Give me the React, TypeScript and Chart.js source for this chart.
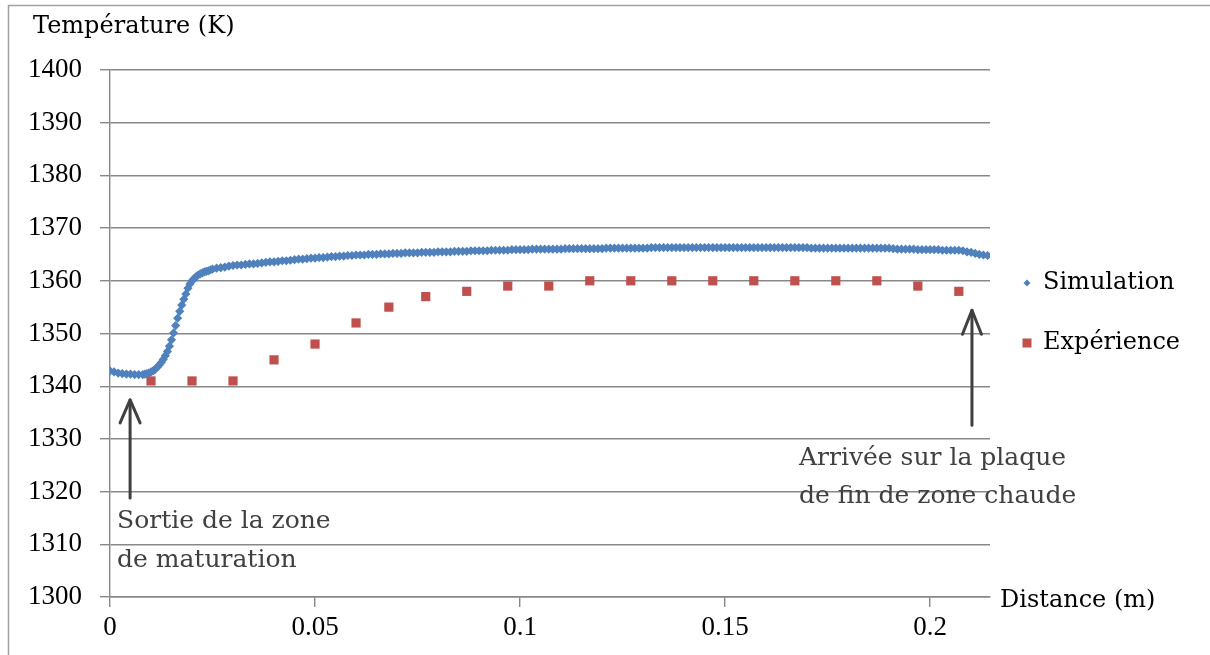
import React, { useEffect, useRef } from "react";
import { Chart, registerables } from "chart.js";

Chart.register(...registerables);

// ---------- data ----------
const simX = [
  0, 0.001, 0.002, 0.003, 0.004, 0.005, 0.006, 0.007, 0.008,
  0.0085, 0.009, 0.0095, 0.01, 0.0105, 0.011, 0.0115, 0.012, 0.0125, 0.013,
  0.0135, 0.014, 0.0145, 0.015, 0.0155, 0.016, 0.0165, 0.017, 0.0175, 0.018,
  0.0185, 0.019, 0.0195, 0.02, 0.0205, 0.021, 0.0215, 0.022, 0.0225, 0.023,
  0.0235, 0.024, 0.0245, 0.025,
  0.026, 0.027, 0.028, 0.029, 0.03, 0.031, 0.032, 0.033, 0.034, 0.035,
  0.036, 0.037, 0.038, 0.039, 0.04, 0.041, 0.042, 0.043, 0.044, 0.045,
  0.046, 0.047, 0.048, 0.049, 0.05, 0.051, 0.052, 0.053, 0.054, 0.055,
  0.056, 0.057, 0.058, 0.059, 0.06, 0.061, 0.062, 0.063, 0.064, 0.065,
  0.066, 0.067, 0.068, 0.069, 0.07, 0.071, 0.072, 0.073, 0.074, 0.075,
  0.076, 0.077, 0.078, 0.079, 0.08, 0.081, 0.082, 0.083, 0.084, 0.085,
  0.086, 0.087, 0.088, 0.089, 0.09, 0.091, 0.092, 0.093, 0.094, 0.095,
  0.096, 0.097, 0.098, 0.099, 0.1, 0.101, 0.102, 0.103, 0.104, 0.105,
  0.106, 0.107, 0.108, 0.109, 0.11, 0.111, 0.112, 0.113, 0.114, 0.115,
  0.116, 0.117, 0.118, 0.119, 0.12, 0.121, 0.122, 0.123, 0.124, 0.125,
  0.126, 0.127, 0.128, 0.129, 0.13, 0.131, 0.132, 0.133, 0.134, 0.135,
  0.136, 0.137, 0.138, 0.139, 0.14, 0.141, 0.142, 0.143, 0.144, 0.145,
  0.146, 0.147, 0.148, 0.149, 0.15, 0.151, 0.152, 0.153, 0.154, 0.155,
  0.156, 0.157, 0.158, 0.159, 0.16, 0.161, 0.162, 0.163, 0.164, 0.165,
  0.166, 0.167, 0.168, 0.169, 0.17, 0.171, 0.172, 0.173, 0.174, 0.175,
  0.176, 0.177, 0.178, 0.179, 0.18, 0.181, 0.182, 0.183, 0.184, 0.185,
  0.186, 0.187, 0.188, 0.189, 0.19, 0.191, 0.192, 0.193, 0.194, 0.195,
  0.196, 0.197, 0.198, 0.199, 0.2, 0.201, 0.202, 0.203, 0.204, 0.205,
  0.206, 0.207, 0.208, 0.209, 0.21, 0.211, 0.212, 0.213, 0.214,
];

const simY = [
  1342.9, 1342.7, 1342.5, 1342.4, 1342.3, 1342.3, 1342.2, 1342.2, 1342.2,
  1342.3, 1342.4, 1342.5, 1342.7, 1342.9, 1343.2, 1343.6, 1344.0, 1344.5, 1345.1,
  1345.8, 1346.6, 1347.6, 1348.8, 1350.1, 1351.5, 1352.9, 1354.2, 1355.4, 1356.5,
  1357.5, 1358.6, 1359.4, 1360.0, 1360.4, 1360.8, 1361.1, 1361.3, 1361.5, 1361.7,
  1361.8, 1361.9, 1362.1, 1362.2,
  1362.4, 1362.5, 1362.6, 1362.8, 1362.9, 1363.0, 1363.0, 1363.1, 1363.2, 1363.2,
  1363.3, 1363.4, 1363.5, 1363.6, 1363.6, 1363.7, 1363.8, 1363.8, 1363.9, 1364.0,
  1364.1, 1364.1, 1364.2, 1364.3, 1364.3, 1364.4, 1364.4, 1364.5, 1364.6, 1364.6,
  1364.7, 1364.7, 1364.8, 1364.8, 1364.9, 1364.9, 1364.9, 1365.0, 1365.0, 1365.0,
  1365.1, 1365.1, 1365.1, 1365.2, 1365.2, 1365.2, 1365.3, 1365.3, 1365.3, 1365.3,
  1365.4, 1365.4, 1365.4, 1365.4, 1365.5, 1365.5, 1365.5, 1365.5, 1365.6, 1365.6,
  1365.6, 1365.6, 1365.7, 1365.7, 1365.7, 1365.7, 1365.7, 1365.8, 1365.8, 1365.8,
  1365.8, 1365.8, 1365.9, 1365.9, 1365.9, 1365.9, 1365.9, 1366.0, 1366.0, 1366.0,
  1366.0, 1366.0, 1366.0, 1366.0, 1366.0, 1366.1, 1366.1, 1366.1, 1366.1, 1366.1,
  1366.1, 1366.1, 1366.1, 1366.1, 1366.1, 1366.2, 1366.2, 1366.2, 1366.2, 1366.2,
  1366.2, 1366.2, 1366.2, 1366.2, 1366.2, 1366.2, 1366.3, 1366.3, 1366.3, 1366.3,
  1366.3, 1366.3, 1366.3, 1366.3, 1366.3, 1366.3, 1366.3, 1366.3, 1366.3, 1366.3,
  1366.3, 1366.3, 1366.3, 1366.3, 1366.3, 1366.3, 1366.3, 1366.3, 1366.3, 1366.3,
  1366.3, 1366.3, 1366.3, 1366.3, 1366.3, 1366.3, 1366.3, 1366.3, 1366.3, 1366.3,
  1366.3, 1366.3, 1366.3, 1366.3, 1366.3, 1366.2, 1366.2, 1366.2, 1366.2, 1366.2,
  1366.2, 1366.2, 1366.2, 1366.2, 1366.2, 1366.2, 1366.2, 1366.2, 1366.2, 1366.2,
  1366.2, 1366.2, 1366.2, 1366.2, 1366.2, 1366.1, 1366.0, 1366.0, 1366.0, 1366.0,
  1366.0, 1365.9, 1365.9, 1365.9, 1365.9, 1365.9, 1365.9, 1365.8, 1365.8, 1365.8,
  1365.8, 1365.8, 1365.7, 1365.5, 1365.4, 1365.2, 1365.0, 1364.9, 1364.8,
];

const expX = [
  0.01, 0.02, 0.03, 0.04, 0.05, 0.06, 0.068, 0.077, 0.087, 0.097, 0.107,
  0.117, 0.127, 0.137, 0.147, 0.157, 0.167, 0.177, 0.187, 0.197, 0.207,
];
const expY = [
  1341, 1341, 1341, 1345, 1348, 1352, 1355, 1357, 1358, 1359, 1359,
  1360, 1360, 1360, 1360, 1360, 1360, 1360, 1360, 1359, 1358,
];

const seriesLabels = ["Simulation", "Expérience"];
const xTitle = "Distance (m)";
const yTitle = "Température (K)";
const note1 = ["Sortie de la zone", "de maturation"];
const note2 = ["Arrivée sur la plaque", "de fin de zone chaude"];

// ---------- style ----------
const FONT = "'DejaVu Serif', serif";
const NUMFONT = "'Liberation Serif', serif";
const BLUE = "#4F81BD";
const RED = "#C0504D";
const GRID = "#888888";
const NOTE = "#404040";

export default function App() {
  const ref = useRef<HTMLCanvasElement | null>(null);

  useEffect(() => {
    document.body.style.margin = "0";
    const canvas = ref.current;
    if (!canvas) return;

    const decor = {
      id: "decor",
      beforeDraw(chart: any) {
        const c = chart.ctx;
        c.save();
        c.fillStyle = "#ffffff";
        c.fillRect(0, 0, chart.width, chart.height);
        c.strokeStyle = "#a0a0a0";
        c.lineWidth = 1.5;
        c.beginPath();
        c.moveTo(8.5, chart.height);
        c.lineTo(8.5, 5.5);
        c.lineTo(chart.width, 5.5);
        c.stroke();
        c.restore();
      },
      afterDraw(chart: any) {
        const c = chart.ctx;
        const xs = chart.scales.x;
        const ys = chart.scales.y;
        c.save();
        // axis titles
        c.fillStyle = "#000000";
        c.textBaseline = "middle";
        c.textAlign = "left";
        c.font = `24px ${FONT}`;
        c.fillText(yTitle, 33, 27);
        c.fillText(xTitle, 1000, 601);

        // legend
        c.fillStyle = "#000000";
        c.fillText(seriesLabels[0], 1043, 283);
        c.fillText(seriesLabels[1], 1043, 343);
        c.fillStyle = BLUE;
        c.beginPath();
        c.moveTo(1027, 279.5);
        c.lineTo(1030.5, 283);
        c.lineTo(1027, 286.5);
        c.lineTo(1023.5, 283);
        c.closePath();
        c.fill();
        c.fillStyle = RED;
        c.fillRect(1022.5, 338.5, 9, 9);

        // arrows
        const arrow = (xv: number, yTip: number, yBase: number, hw: number, hh: number) => {
          const px = xs.getPixelForValue(xv);
          const pt = ys.getPixelForValue(yTip);
          const pb = ys.getPixelForValue(yBase);
          c.strokeStyle = NOTE;
          c.lineWidth = 3;
          c.lineCap = "round";
          c.lineJoin = "round";
          c.beginPath();
          c.moveTo(px, pb);
          c.lineTo(px, pt);
          c.stroke();
          c.beginPath();
          c.moveTo(px - hw, pt + hh);
          c.lineTo(px, pt);
          c.lineTo(px + hw, pt + hh);
          c.stroke();
        };
        arrow(0.0049, 1337.4, 1318.8, 10, 23);
        arrow(0.2102, 1354.4, 1332.6, 9.5, 24);

        // notes
        c.fillStyle = NOTE;
        c.font = `25px ${FONT}`;
        c.textAlign = "left";
        c.fillText(note1[0], 117, 521);
        c.fillText(note1[1], 117, 560);
        c.fillText(note2[0], 799, 458);
        c.fillText(note2[1], 799, 496);
        c.restore();
      },
    };

    const tickFont = { family: NUMFONT, size: 27 };

    const chart = new Chart(canvas, {
      type: "scatter",
      data: {
        datasets: [
          {
            label: seriesLabels[0],
            data: simX.map((x, i) => ({ x, y: simY[i] })),
            pointStyle: "rectRot",
            pointRadius: 4.6,
            pointBackgroundColor: BLUE,
            pointBorderWidth: 0,
            pointBorderColor: BLUE,
            showLine: false,
          },
          {
            label: seriesLabels[1],
            data: expX.map((x, i) => ({ x, y: expY[i] })),
            pointStyle: "rect",
            pointRadius: 6.5,
            pointBackgroundColor: RED,
            pointBorderWidth: 0,
            pointBorderColor: RED,
            showLine: false,
          },
        ],
      } as any,
      options: {
        responsive: false,
        animation: false,
        devicePixelRatio: 1,
        layout: { padding: { top: 70, right: 220, left: 0, bottom: 0 } },
        plugins: {
          legend: { display: false },
          tooltip: { enabled: false },
        },
        scales: {
          x: {
            type: "linear",
            min: 0,
            max: 0.2146,
            afterFit: (s: any) => {
              s.height = 58;
            },
            ticks: {
              stepSize: 0.05,
              includeBounds: false,
              autoSkip: false,
              maxRotation: 0,
              padding: 5,
              color: "#000000",
              font: tickFont,
              callback: (v: any) => String(+Number(v).toFixed(2)),
            },
            grid: {
              drawOnChartArea: false,
              drawTicks: true,
              tickLength: 10,
              color: GRID,
              lineWidth: 1.4,
            },
            border: { display: true, color: GRID, width: 1.4 },
          },
          y: {
            type: "linear",
            min: 1300,
            max: 1400,
            afterFit: (s: any) => {
              s.width = 110;
            },
            ticks: {
              stepSize: 10,
              padding: 18,
              color: "#000000",
              font: tickFont,
              callback: (v: any) => String(Math.round(Number(v))),
            },
            grid: {
              drawOnChartArea: true,
              drawTicks: true,
              tickLength: 10,
              color: GRID,
              lineWidth: 1.4,
            },
            border: { display: true, color: GRID, width: 1.4 },
          },
        },
      } as any,
      plugins: [decor],
    });

    return () => chart.destroy();
  }, []);

  return (
    <canvas
      ref={ref}
      width={1210}
      height={655}
      style={{ display: "block", width: "1210px", height: "655px" }}
    />
  );
}
